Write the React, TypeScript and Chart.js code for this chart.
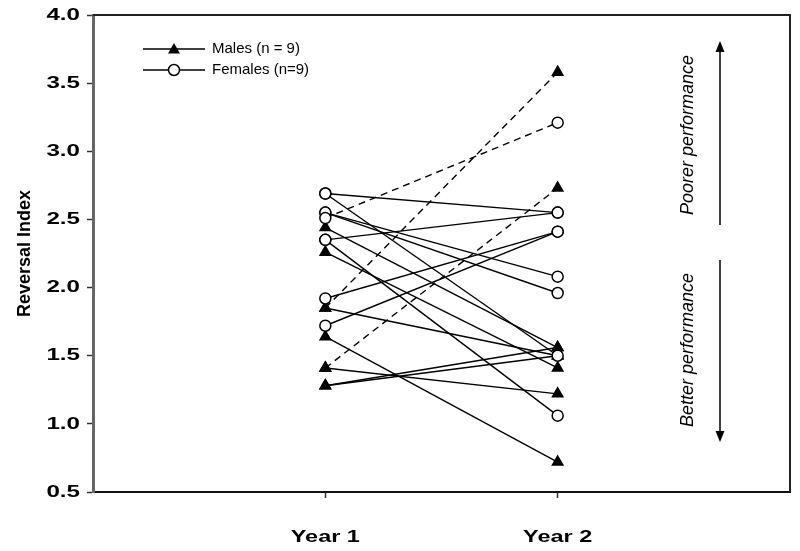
import React, { useEffect, useRef } from "react";
import { Chart, registerables } from "chart.js";

Chart.register(...registerables);

const categories = ["Year 1", "Year 2"];
const yTicks = [0.5, 1.0, 1.5, 2.0, 2.5, 3.0, 3.5, 4.0];

// Males (triangles)
const maleYear1 = [1.85, 1.41, 2.44, 2.26, 1.64, 1.28, 1.28, 1.85, 1.41];
const maleYear2 = [3.58, 2.73, 1.56, 1.41, 0.72, 1.56, 1.5, 1.5, 1.22];
const maleDashed = [true, true, false, false, false, false, false, false, false];

// Females (circles)
const femaleYear1 = [2.69, 2.69, 2.51, 2.35, 2.55, 2.55, 1.92, 1.72, 2.35];
const femaleYear2 = [2.55, 1.5, 3.21, 1.06, 2.08, 1.96, 2.41, 2.41, 2.55];
const femaleDashed = [false, false, true, false, false, false, false, false, false];

const legendLabels = ["Males (n = 9)", "Females (n=9)"];
const annotationLabels = ["Poorer performance", "Better performance"];
const yTitle = "Reversal Index";

const FONT = "'Liberation Sans', Arial, sans-serif";

function makeDataset(y1: number, y2: number, dashed: boolean, male: boolean) {
  return {
    data: [
      { x: 1, y: y1 },
      { x: 2, y: y2 },
    ],
    borderColor: "#000",
    borderWidth: 1.4,
    borderDash: dashed ? [7, 5] : [],
    pointStyle: male ? "triangle" : "circle",
    pointRadius: male ? 6 : 5.5,
    pointBorderWidth: 1.5,
    pointBorderColor: "#000",
    pointBackgroundColor: male ? "#000" : "#fff",
    showLine: true,
    fill: false,
  };
}

function stretchedText(ctx: any, text: string, x: number, y: number, sx: number, align: string) {
  ctx.save();
  ctx.translate(x, y);
  ctx.scale(sx, 1);
  ctx.textAlign = align;
  ctx.textBaseline = "middle";
  ctx.fillText(text, 0, 0);
  ctx.restore();
}

const decorPlugin = {
  id: "decor",
  afterDraw(chart: any) {
    const ctx = chart.ctx;
    const a = chart.chartArea;
    const xs = chart.scales.x;
    const ys = chart.scales.y;
    ctx.save();
    // top & right frame
    ctx.strokeStyle = "#222";
    ctx.lineWidth = 2;
    ctx.beginPath();
    ctx.moveTo(a.left, a.top);
    ctx.lineTo(a.right, a.top);
    ctx.lineTo(a.right, a.bottom);
    ctx.stroke();

    // tick labels
    ctx.fillStyle = "#000";
    ctx.font = `bold 17px ${FONT}`;
    for (const v of yTicks) {
      stretchedText(ctx, v.toFixed(1), 80, ys.getPixelForValue(v), 1.42, "right");
    }
    categories.forEach((c, i) => {
      stretchedText(ctx, c, xs.getPixelForValue(i + 1), 537, 1.38, "center");
    });

    // y title
    ctx.font = `bold 18px ${FONT}`;
    ctx.textAlign = "center";
    ctx.textBaseline = "middle";
    ctx.save();
    ctx.translate(25, (a.top + a.bottom) / 2);
    ctx.rotate(-Math.PI / 2);
    ctx.fillText(yTitle, 0, 0);
    ctx.restore();

    // legend
    const legY = [49, 70];
    for (let i = 0; i < 2; i++) {
      const y = legY[i];
      ctx.strokeStyle = "#000";
      ctx.lineWidth = 1.4;
      ctx.setLineDash([]);
      ctx.beginPath();
      ctx.moveTo(143, y);
      ctx.lineTo(205, y);
      ctx.stroke();
      const cx = 174;
      ctx.beginPath();
      if (i === 0) {
        ctx.fillStyle = "#000";
        ctx.moveTo(cx, y - 6);
        ctx.lineTo(cx + 6, y + 4.5);
        ctx.lineTo(cx - 6, y + 4.5);
        ctx.closePath();
        ctx.fill();
      } else {
        ctx.fillStyle = "#fff";
        ctx.lineWidth = 1.5;
        ctx.arc(cx, y, 5.5, 0, Math.PI * 2);
        ctx.fill();
        ctx.stroke();
      }
      ctx.fillStyle = "#000";
      ctx.font = `15px ${FONT}`;
      ctx.textAlign = "left";
      ctx.textBaseline = "middle";
      ctx.fillText(legendLabels[i], 212, y);
    }

    // arrows
    const ax = 720;
    ctx.strokeStyle = "#000";
    ctx.fillStyle = "#000";
    ctx.lineWidth = 1.5;
    ctx.beginPath();
    ctx.moveTo(ax, 225);
    ctx.lineTo(ax, 48);
    ctx.stroke();
    ctx.beginPath();
    ctx.moveTo(ax, 41);
    ctx.lineTo(ax + 4.5, 52);
    ctx.lineTo(ax - 4.5, 52);
    ctx.closePath();
    ctx.fill();
    ctx.beginPath();
    ctx.moveTo(ax, 260);
    ctx.lineTo(ax, 434);
    ctx.stroke();
    ctx.beginPath();
    ctx.moveTo(ax, 442);
    ctx.lineTo(ax + 4.5, 431);
    ctx.lineTo(ax - 4.5, 431);
    ctx.closePath();
    ctx.fill();

    // rotated italic labels
    ctx.font = `italic 18px ${FONT}`;
    ctx.textAlign = "center";
    ctx.textBaseline = "middle";
    const centers = [135, 350];
    for (let i = 0; i < 2; i++) {
      ctx.save();
      ctx.translate(688, centers[i]);
      ctx.rotate(-Math.PI / 2);
      ctx.fillText(annotationLabels[i], 0, 0);
      ctx.restore();
    }
    ctx.restore();
  },
};

export default function App() {
  const ref = useRef<HTMLCanvasElement>(null);
  useEffect(() => {
    if (!ref.current) return;
    const datasets: any[] = [];
    for (let i = 0; i < femaleYear1.length; i++)
      datasets.push(makeDataset(femaleYear1[i], femaleYear2[i], femaleDashed[i], false));
    for (let i = 0; i < maleYear1.length; i++)
      datasets.push(makeDataset(maleYear1[i], maleYear2[i], maleDashed[i], true));

    const chart = new Chart(ref.current, {
      type: "scatter",
      data: { datasets },
      plugins: [decorPlugin],
      options: {
        responsive: false,
        animation: false,
        layout: { padding: { top: 15, right: 10, left: 0, bottom: 0 } },
        plugins: { legend: { display: false }, tooltip: { enabled: false } },
        scales: {
          x: {
            type: "linear",
            min: 0,
            max: 3,
            afterBuildTicks: (s: any) => {
              s.ticks = [{ value: 1 }, { value: 2 }];
            },
            afterFit: (s: any) => {
              s.height = 59;
            },
            ticks: { display: false },
            grid: { drawOnChartArea: false, drawTicks: true, tickLength: 6, tickColor: "#333", tickWidth: 1.5 },
            border: { display: true, color: "#111", width: 2 },
          },
          y: {
            type: "linear",
            min: 0.5,
            max: 4,
            afterBuildTicks: (s: any) => {
              s.ticks = yTicks.map((v) => ({ value: v }));
            },
            afterFit: (s: any) => {
              s.width = 93;
            },
            ticks: { display: false },
            grid: { drawOnChartArea: false, drawTicks: true, tickLength: 6, tickColor: "#333", tickWidth: 1.5 },
            border: { display: true, color: "#666", width: 3 },
          },
        },
      } as any,
    });
    return () => chart.destroy();
  }, []);
  return (
    <div style={{ position: "absolute", left: 0, top: 0, width: 800, height: 551, background: "#fff" }}>
      <canvas ref={ref} width={800} height={551} style={{ display: "block" }} />
    </div>
  );
}
